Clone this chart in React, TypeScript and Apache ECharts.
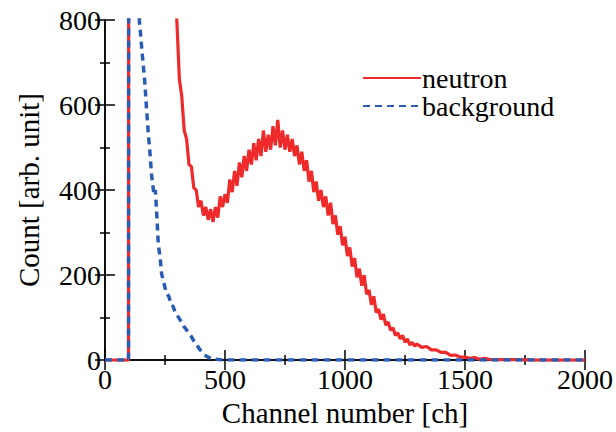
import React, { useEffect, useRef } from "react";
import * as echarts from "echarts";

const xTicks = [0, 500, 1000, 1500, 2000];
const yTicks = [0, 200, 400, 600, 800];

const neutronCh = [0, 98, 100, 200, 280, 300, 310, 320, 330, 340, 350, 360, 370, 380, 390, 400, 410, 420, 430, 440, 450, 460, 470, 480, 490, 500, 510, 520, 530, 540, 550, 560, 570, 580, 590, 600, 610, 620, 630, 640, 650, 660, 670, 680, 690, 700, 710, 720, 730, 740, 750, 760, 770, 780, 790, 800, 810, 820, 830, 840, 850, 860, 870, 880, 890, 900, 910, 920, 930, 940, 950, 960, 970, 980, 990, 1000, 1010, 1020, 1030, 1040, 1050, 1060, 1070, 1080, 1090, 1100, 1110, 1120, 1130, 1140, 1150, 1160, 1170, 1180, 1190, 1200, 1210, 1220, 1230, 1240, 1250, 1260, 1270, 1280, 1290, 1300, 1320, 1340, 1360, 1380, 1400, 1420, 1440, 1460, 1480, 1500, 1520, 1540, 1560, 1580, 1600, 1650, 1700, 1800, 2000];
const neutronCount = [0, 0, 3000, 3000, 1000, 790, 660, 620, 540, 520, 460, 455, 405, 400, 360, 375, 340, 360, 330, 355, 325, 360, 335, 385, 360, 390, 370, 425, 395, 445, 410, 465, 430, 480, 445, 495, 460, 510, 470, 520, 480, 540, 490, 530, 495, 550, 505, 565, 500, 540, 495, 530, 490, 520, 480, 505, 460, 490, 445, 470, 420, 445, 395, 420, 375, 400, 360, 385, 340, 370, 320, 340, 295, 315, 270, 290, 245, 265, 220, 240, 195, 215, 175, 200, 155, 165, 130, 150, 112, 120, 95, 108, 82, 90, 70, 76, 58, 64, 50, 58, 42, 50, 36, 42, 33, 38, 30, 32, 24, 24, 18, 18, 11, 12, 7, 7, 4, 6, 2, 4, 2, 1, 1, 0, 0];

const backgroundCh = [0, 98, 100, 130, 143, 156, 166, 173, 180, 187, 194, 204, 210, 215, 222, 230, 236, 246, 256, 266, 276, 284, 294, 302, 312, 322, 330, 340, 350, 360, 367, 380, 395, 410, 423, 440, 460, 480, 500, 2000];
const backgroundCount = [0, 0, 3000, 1200, 800, 715, 653, 591, 536, 490, 436, 389, 400, 350, 273, 240, 203, 180, 157, 150, 130, 126, 110, 105, 95, 88, 78, 71, 62, 55, 48, 38, 25, 15, 9, 4, 2, 1, 0, 0];

const FONT = "'Liberation Serif', 'Times New Roman', serif";
const RED = "#ee2a2a";
const BLUE = "#2b5cb3";

export default function App() {
  const ref = useRef<HTMLDivElement>(null);
  useEffect(() => {
    if (!ref.current) return;
    const chart = echarts.init(ref.current, null, { renderer: "svg" });
    const axisCommon = {
      type: "value" as const,
      axisLine: { show: true, lineStyle: { color: "#000", width: 1.5 } },
      axisTick: { show: true, inside: true, length: 10, lineStyle: { color: "#000", width: 1.5 } },
      minorTick: { show: true, splitNumber: 2, length: 5, lineStyle: { color: "#000", width: 1.5 } },
      splitLine: { show: false },
      minorSplitLine: { show: false },
    };
    const labelStyle = {
      fontFamily: FONT,
      fontSize: 28,
      color: "#000",
      formatter: (v: number) => String(v),
    };
    const nameStyle = { fontFamily: FONT, fontSize: 29, color: "#000" };
    const xMin = xTicks[0], xMax = xTicks[xTicks.length - 1], xInt = xTicks[1] - xTicks[0];
    const yMin = yTicks[0], yMax = yTicks[yTicks.length - 1], yInt = yTicks[1] - yTicks[0];
    chart.setOption({
      animation: false,
      backgroundColor: "#fff",
      textStyle: { fontFamily: FONT },
      grid: { left: 105, right: 30, top: 20, bottom: 68 },
      legend: {
        orient: "vertical",
        left: 362,
        top: 64,
        padding: 0,
        itemWidth: 58,
        itemHeight: 14,
        itemGap: 0,
        itemStyle: { opacity: 0 },
        textStyle: { fontFamily: FONT, fontSize: 28, color: "#000", padding: [0, 0, 0, -4] },
        data: ["neutron", "background"],
      },
      xAxis: [
        {
          ...axisCommon,
          position: "bottom",
          min: xMin,
          max: xMax,
          interval: xInt,
          name: "Channel number [ch]",
          nameLocation: "middle",
          nameGap: 27,
          nameTextStyle: nameStyle,
          axisLabel: { ...labelStyle, margin: 5 },
        },
        {
          ...axisCommon,
          position: "top",
          min: xMin,
          max: xMax,
          interval: xInt,
          axisLabel: { show: false },
        },
      ],
      yAxis: [
        {
          ...axisCommon,
          position: "left",
          min: yMin,
          max: yMax,
          interval: yInt,
          name: "Count [arb. unit]",
          nameLocation: "middle",
          nameGap: 62,
          nameTextStyle: nameStyle,
          axisLabel: { ...labelStyle, margin: 4 },
        },
        {
          ...axisCommon,
          position: "right",
          min: yMin,
          max: yMax,
          interval: yInt,
          axisLabel: { show: false },
        },
      ],
      series: [
        {
          name: "neutron",
          type: "line",
          symbol: "none",
          data: neutronCh.map((c, i) => [c, neutronCount[i]]),
          lineStyle: { color: RED, width: 3.2 },
          itemStyle: { color: RED },
          z: 2,
        },
        {
          name: "background",
          type: "line",
          symbol: "none",
          data: backgroundCh.map((c, i) => [c, backgroundCount[i]]),
          lineStyle: { color: BLUE, width: 3.5, type: [7, 5] },
          itemStyle: { color: BLUE },
          z: 3,
        },
      ],
    });
    return () => chart.dispose();
  }, []);
  return <div ref={ref} style={{ position: "fixed", left: 0, top: 0, width: 616, height: 432 }} />;
}
